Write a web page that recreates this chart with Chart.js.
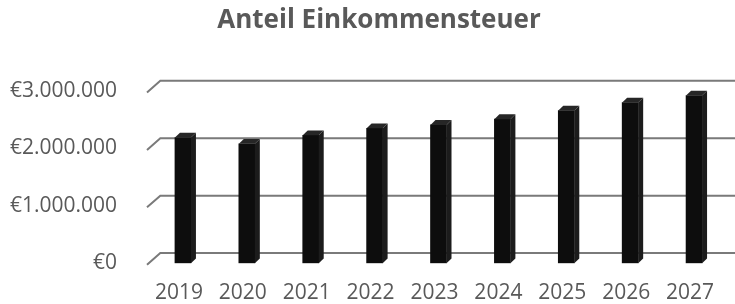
<!DOCTYPE html>
<html><head><meta charset="utf-8">
<script src="https://cdn.jsdelivr.net/npm/chart.js@4.4.0/dist/chart.umd.min.js"></script>
<style>html,body{margin:0;padding:0;background:#fff;}#wrap{width:735px;height:304px;}</style>
</head><body><div id="wrap"><canvas id="c" width="735" height="304"></canvas></div>
<script>
const chartTitle = 'Anteil Einkommensteuer';
const years = ['2019','2020','2021','2022','2023','2024','2025','2026','2027'];
const einkommensteuer = [2190000, 2080000, 2230000, 2350000, 2410000, 2510000, 2660000, 2800000, 2920000];
const yTickValues = [0, 1000000, 2000000, 3000000];
const yTickLabels = ['€0', '€1.000.000', '€2.000.000', '€3.000.000'];

const FONT = "'Open Sans', 'DejaVu Sans', sans-serif";
const TEXT = '#595959';
const WALL_DX = 13.3, WALL_DY = 11.7, GRID_DROP = 1.5;
const BAR_DX = 5, BAR_DY = 4.8, BAR_SHIFT = 4;

const threeD = {
  id: 'threeD',
  beforeDatasetsDraw(chart) {
    const {ctx, chartArea, scales: {y}} = chart;
    ctx.save();
    ctx.strokeStyle = '#7a7a7a';
    ctx.lineWidth = 2;
    yTickValues.forEach(v => {
      const yp = y.getPixelForValue(v) + GRID_DROP;
      ctx.beginPath();
      ctx.moveTo(chartArea.left, yp);
      ctx.lineTo(chartArea.left + WALL_DX, yp - WALL_DY);
      ctx.lineTo(chart.width, yp - WALL_DY);
      ctx.stroke();
    });
    ctx.restore();
    ctx.save();
    ctx.translate(BAR_SHIFT, 0);
  },
  afterDatasetsDraw(chart) {
    const {ctx} = chart;
    const meta = chart.getDatasetMeta(0);
    meta.data.forEach(bar => {
      const p = bar.getProps(['x', 'y', 'base', 'width'], true);
      const x1 = p.x - p.width / 2, x2 = p.x + p.width / 2;
      ctx.fillStyle = '#1c1c1c';
      ctx.beginPath();
      ctx.moveTo(x2, p.y);
      ctx.lineTo(x2 + BAR_DX, p.y - BAR_DY);
      ctx.lineTo(x2 + BAR_DX, p.base - BAR_DY);
      ctx.lineTo(x2, p.base);
      ctx.closePath();
      ctx.fill();
      ctx.fillStyle = '#262626';
      ctx.beginPath();
      ctx.moveTo(x1, p.y);
      ctx.lineTo(x1 + BAR_DX, p.y - BAR_DY);
      ctx.lineTo(x2 + BAR_DX, p.y - BAR_DY);
      ctx.lineTo(x2, p.y);
      ctx.closePath();
      ctx.fill();
    });
    ctx.restore();
  },
  afterDraw(chart) {
    const {ctx} = chart;
    ctx.save();
    ctx.font = "bold 26px " + FONT;
    ctx.fillStyle = TEXT;
    ctx.textAlign = 'center';
    ctx.textBaseline = 'alphabetic';
    ctx.fillText(chartTitle, 379, 28);
    ctx.restore();
  }
};

new Chart(document.getElementById('c'), {
  type: 'bar',
  data: {
    labels: years,
    datasets: [{
      label: chartTitle,
      data: einkommensteuer,
      backgroundColor: '#0d0d0d',
      borderWidth: 0,
      barThickness: 16
    }]
  },
  options: {
    responsive: false,
    animation: false,
    devicePixelRatio: 1,
    layout: {padding: {top: 91, right: 13, bottom: 0, left: 0}},
    plugins: {legend: {display: false}, title: {display: false}, tooltip: {enabled: false}},
    scales: {
      x: {
        grid: {display: false, drawTicks: false},
        border: {display: false},
        ticks: {font: {family: FONT, size: 21}, color: TEXT, padding: 17, maxRotation: 0, autoSkip: false},
        afterFit: s => { s.height = 40.7; }
      },
      y: {
        min: 0, max: 3000000,
        afterBuildTicks: s => { s.ticks = yTickValues.map(v => ({value: v})); },
        grid: {display: false, drawTicks: false},
        border: {display: false},
        ticks: {
          font: {family: FONT, size: 21}, color: TEXT, padding: 30,
          callback: v => yTickLabels[yTickValues.indexOf(v)]
        },
        afterFit: s => { s.width = 147; s.paddingTop = 0; s.paddingBottom = 0; }
      }
    }
  },
  plugins: [threeD]
});
</script>
</body></html>
